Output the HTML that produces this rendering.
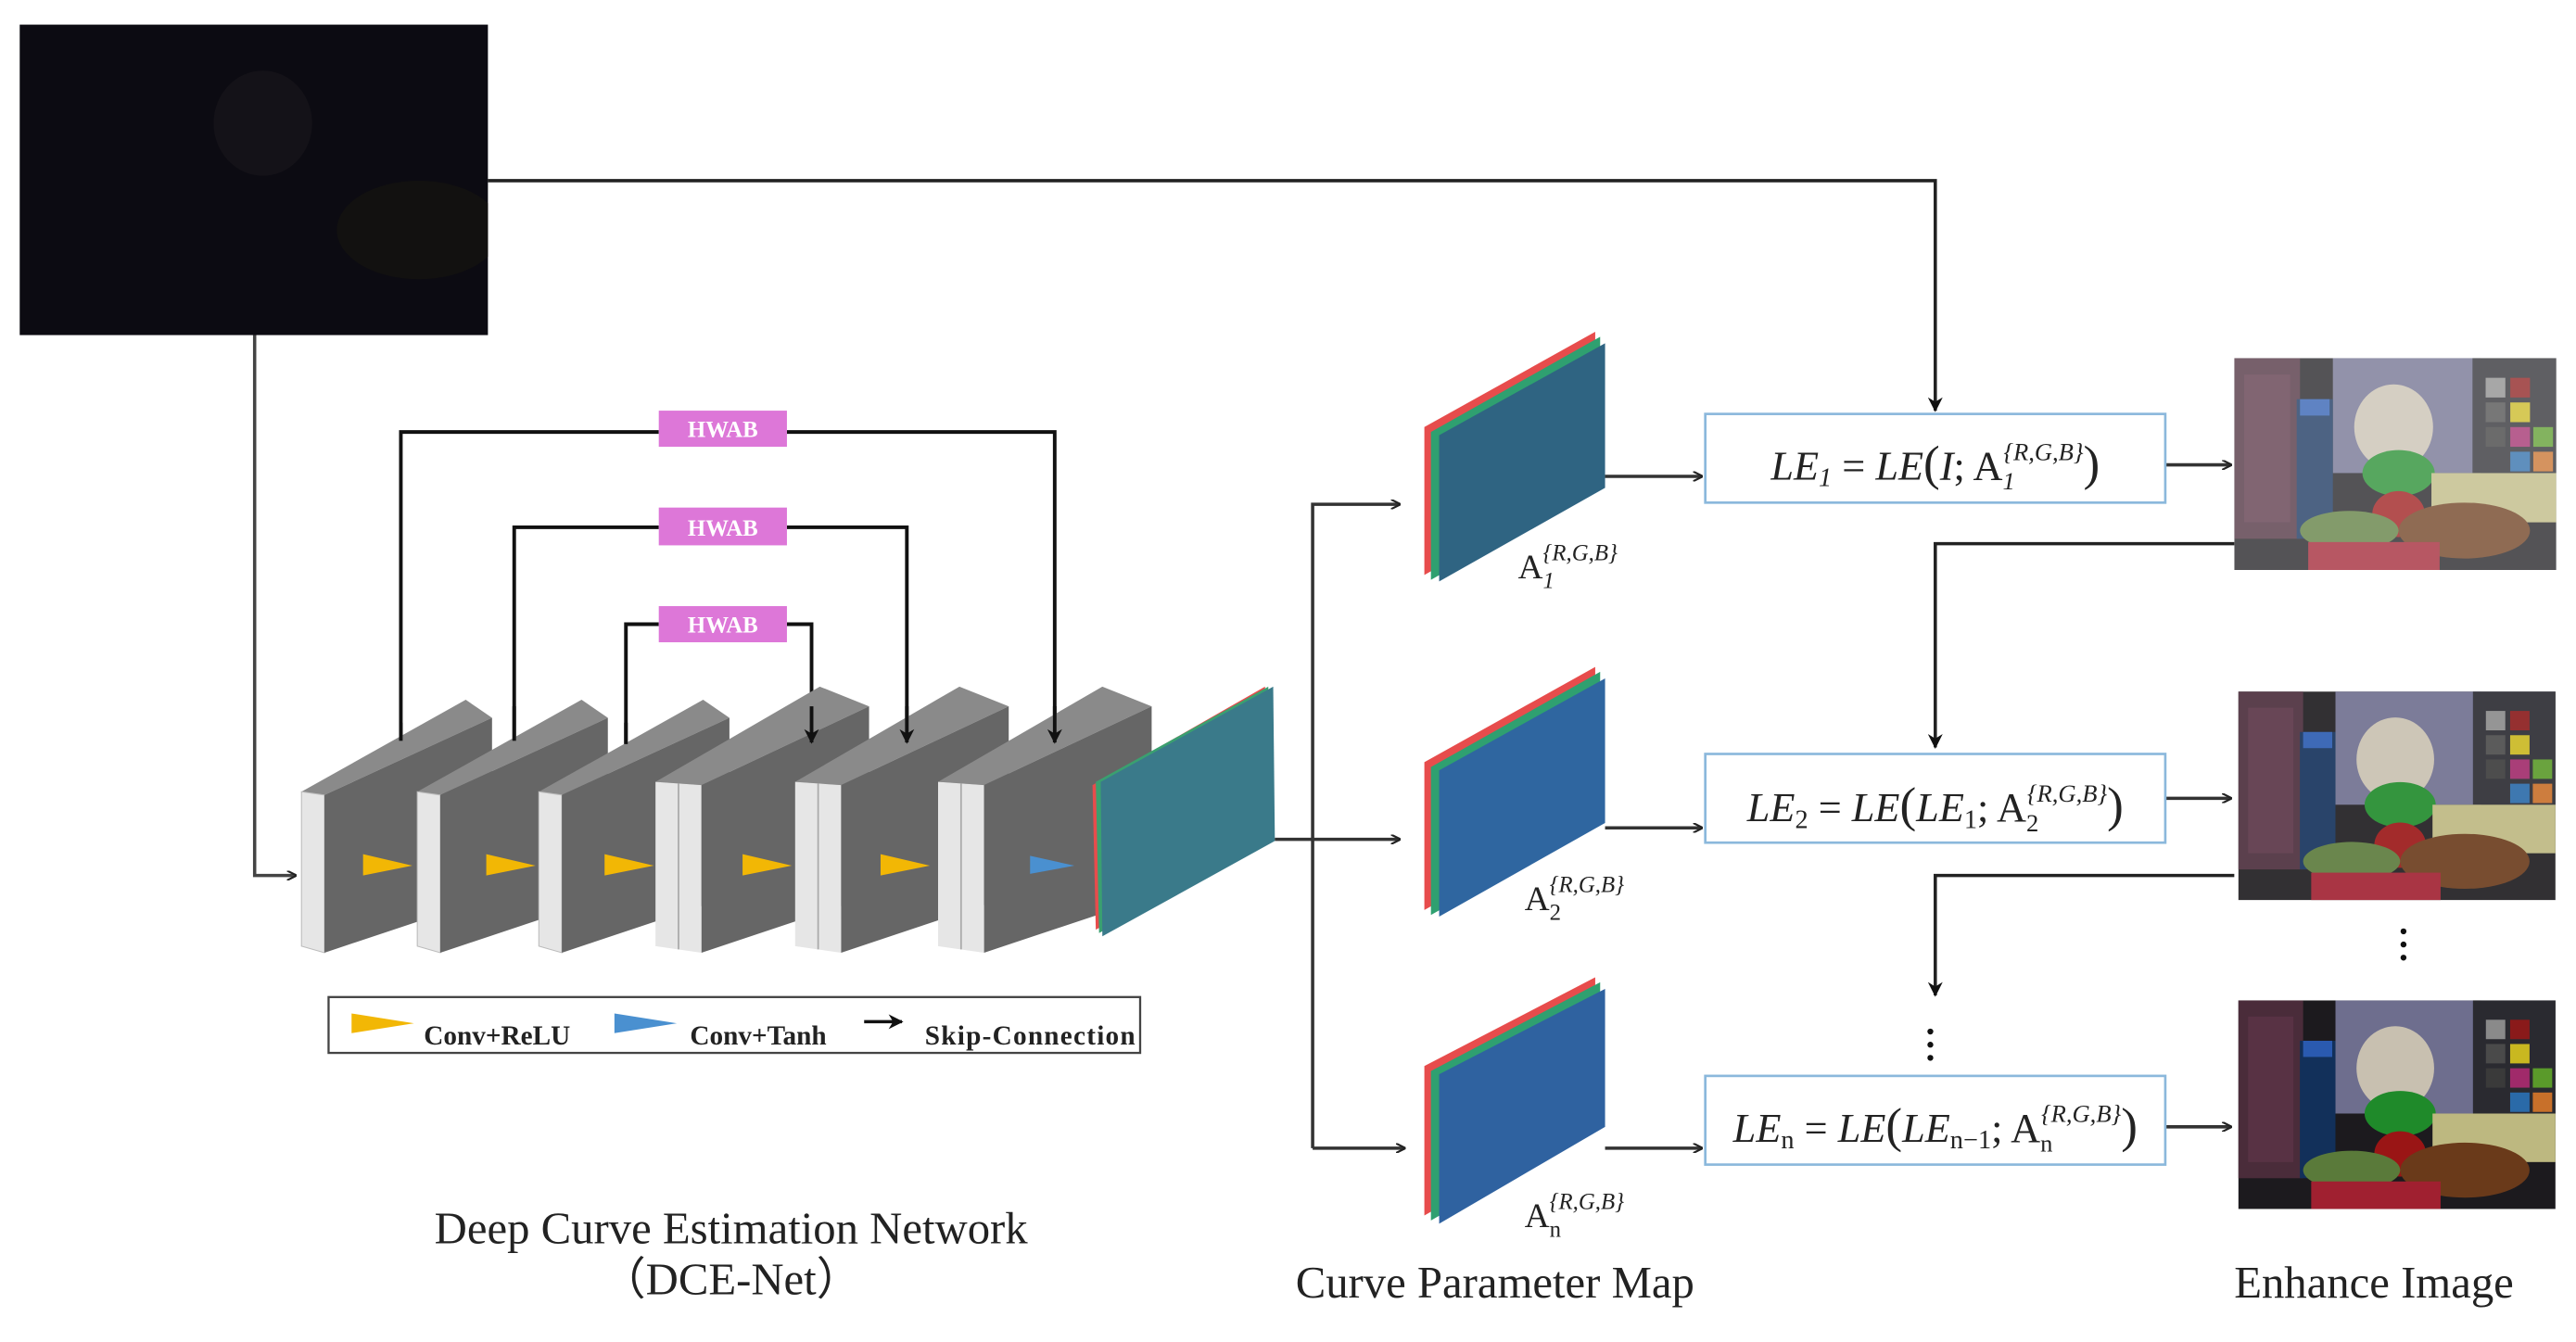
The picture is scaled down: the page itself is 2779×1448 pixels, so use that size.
<!DOCTYPE html>
<html><head><meta charset="utf-8"><style>
html,body{margin:0;padding:0;background:#fff;}
svg{display:block;}
</style></head><body>
<svg width="2779" height="1448" viewBox="0 0 1568 817" preserveAspectRatio="none" xmlns="http://www.w3.org/2000/svg">
<defs>
<marker id="ah" viewBox="0 0 10 10" refX="9" refY="5" markerWidth="6" markerHeight="6" orient="auto" markerUnits="userSpaceOnUse">
<path d="M0,0 L10,5 L0,10" fill="none" stroke="#222" stroke-width="2"/>
</marker>
<marker id="ahf" viewBox="0 0 10 10" refX="9" refY="5" markerWidth="9" markerHeight="9" orient="auto" markerUnits="userSpaceOnUse">
<path d="M0,0 L10,5 L0,10 L3,5 Z" fill="#111"/>
</marker>
<clipPath id="dk"><rect x="12" y="15" width="285" height="189"/></clipPath>
<symbol id="photo" viewBox="0 0 196 129">
<rect width="196" height="129" fill="#1c1a1e"/>
<rect x="0" y="0" width="40" height="110" fill="#4a2c3a"/>
<rect x="6" y="10" width="28" height="90" fill="#5e3548" opacity="0.7"/>
<rect x="60" y="0" width="90" height="70" fill="#6e6e8e"/>
<rect x="145" y="0" width="51" height="70" fill="#2a2a30"/>
<rect x="153" y="12" width="12" height="12" fill="#8a8a8a"/><rect x="168" y="12" width="12" height="12" fill="#8a1a1a"/>
<rect x="153" y="27" width="12" height="12" fill="#4a4a4a"/><rect x="168" y="27" width="12" height="12" fill="#c9b820"/>
<rect x="153" y="42" width="12" height="12" fill="#3a3a3a"/><rect x="168" y="42" width="12" height="12" fill="#a02a6a"/><rect x="182" y="42" width="12" height="12" fill="#5a9a2a"/>
<rect x="168" y="57" width="12" height="12" fill="#2a6aa8"/><rect x="182" y="57" width="12" height="12" fill="#c8702a"/>
<rect x="38" y="25" width="22" height="85" fill="#12305a"/>
<rect x="40" y="25" width="18" height="10" fill="#2a5ab0"/>
<ellipse cx="97" cy="42" rx="24" ry="26" fill="#c8c0b0"/>
<ellipse cx="100" cy="70" rx="22" ry="14" fill="#1f8a2a"/>
<rect x="120" y="70" width="76" height="30" fill="#bdb880"/>
<ellipse cx="100" cy="95" rx="16" ry="14" fill="#9a1515"/>
<ellipse cx="140" cy="105" rx="40" ry="17" fill="#6a3a1a"/>
<ellipse cx="70" cy="105" rx="30" ry="12" fill="#5a7a3a"/>
<rect x="45" y="112" width="80" height="17" fill="#a02030"/>
</symbol>
</defs>

<!-- dark input image -->
<rect x="12" y="15" width="285" height="189" fill="#0c0b12"/>
<g clip-path="url(#dk)">
<ellipse cx="160" cy="75" rx="30" ry="32" fill="#141218"/>
<ellipse cx="255" cy="140" rx="50" ry="30" fill="#121110"/>
</g>

<path d="M297,110 H1178 V250" fill="none" stroke="#222" stroke-width="2" marker-end="url(#ahf)"/>
<path d="M155,204 V533 H180" fill="none" stroke="#444" stroke-width="2" marker-end="url(#ah)"/>

<g fill="none" stroke="#111" stroke-width="2.2">
<path d="M244,451 V263 H401"/>
<path d="M479,263 H642 V452" marker-end="url(#ahf)"/>
<path d="M313,451 V321 H401"/>
<path d="M479,321 H552 V452" marker-end="url(#ahf)"/>
<path d="M381,453 V380 H401"/>
<path d="M479,380 H494 V452" marker-end="url(#ahf)"/>
</g>

<g>
<polygon points="183.5,482 283.5,426 299.5,437 197.5,484" fill="#8a8a8a"/>
<polygon points="183.5,482 197.5,484 197.5,580 183.5,576" fill="#e6e6e6" stroke="#bbb" stroke-width="0.6"/>
<polygon points="197.5,484 299.5,437 299.5,546 197.5,580" fill="#666"/>
<polygon points="221,520 251,527 221,533" fill="#f2b705"/>
<polygon points="254,482 354,426 370,437 268,484" fill="#8a8a8a"/>
<polygon points="254,482 268,484 268,580 254,576" fill="#e6e6e6" stroke="#bbb" stroke-width="0.6"/>
<polygon points="268,484 370,437 370,546 268,580" fill="#666"/>
<polygon points="296,520 326,527 296,533" fill="#f2b705"/>
<polygon points="328,482 428,426 444,437 342,484" fill="#8a8a8a"/>
<polygon points="328,482 342,484 342,580 328,576" fill="#e6e6e6" stroke="#bbb" stroke-width="0.6"/>
<polygon points="342,484 444,437 444,546 342,580" fill="#666"/>
<polygon points="368,520 398,527 368,533" fill="#f2b705"/>
<polygon points="399,476 499,418 529,430 427,478" fill="#8a8a8a"/>
<polygon points="399,476 427,478 427,580 399,576" fill="#e6e6e6"/>
<line x1="413" y1="477" x2="413" y2="578" stroke="#aaa" stroke-width="1"/>
<polygon points="427,478 529,430 529,546 427,580" fill="#666"/>
<polygon points="452,520 482,527 452,533" fill="#f2b705"/>
<polygon points="484,476 584,418 614,430 512,478" fill="#8a8a8a"/>
<polygon points="484,476 512,478 512,580 484,576" fill="#e6e6e6"/>
<line x1="498" y1="477" x2="498" y2="578" stroke="#aaa" stroke-width="1"/>
<polygon points="512,478 614,430 614,546 512,580" fill="#666"/>
<polygon points="536,520 566,527 536,533" fill="#f2b705"/>
<polygon points="571,476 671,418 701,430 599,478" fill="#8a8a8a"/>
<polygon points="571,476 599,478 599,580 571,576" fill="#e6e6e6"/>
<line x1="585" y1="477" x2="585" y2="578" stroke="#aaa" stroke-width="1"/>
<polygon points="599,478 701,430 701,546 599,580" fill="#666"/>
<polygon points="627,521 654,527 627,532" fill="#4a90d0"/>
</g>
<g fill="none" stroke="#111" stroke-width="2.2">
<path d="M494,430 V452" marker-end="url(#ahf)"/>
<path d="M552,430 V452" marker-end="url(#ahf)"/>
<path d="M642,430 V452" marker-end="url(#ahf)"/>
<path d="M244,451 V440"/><path d="M313,451 V430"/><path d="M381,453 V440"/>
</g>

<polygon points="665,478 770,418 772,508 667,566" fill="#e74c4c"/>
<polygon points="667,476 772,418 774,510 669,568" fill="#3aa070"/>
<polygon points="670,476 775,418 776,512 671,570" fill="#3a7a8a"/>

<g font-family="Liberation Serif, serif" font-weight="bold" font-size="14" fill="#fff" text-anchor="middle">
<rect x="401" y="250" width="78" height="22" fill="#dd77d8"/><text x="440" y="266">HWAB</text>
<rect x="401" y="309" width="78" height="23" fill="#dd77d8"/><text x="440" y="326">HWAB</text>
<rect x="401" y="369" width="78" height="22" fill="#dd77d8"/><text x="440" y="385">HWAB</text>
</g>

<rect x="200" y="607" width="494" height="34" fill="#fff" stroke="#444" stroke-width="1.3"/>
<polygon points="214,617 252,623 214,629" fill="#f2b705"/>
<polygon points="374,617 412,623 374,629" fill="#4a90d0"/>
<path d="M526,622 H549" stroke="#111" stroke-width="2" marker-end="url(#ahf)"/>
<g font-family="Liberation Serif, serif" font-weight="bold" font-size="16.5" fill="#222">
<text x="258" y="636">Conv+ReLU</text>
<text x="420" y="636">Conv+Tanh</text>
<text x="563" y="636" textLength="128">Skip-Connection</text>
</g>

<g fill="none" stroke="#333" stroke-width="2">
<path d="M776,511 H852" marker-end="url(#ah)"/>
<path d="M799,699 V307 H852" marker-end="url(#ah)"/>
<path d="M799,699 H855" marker-end="url(#ah)"/>
</g>

<g>
<polygon points="867,260 971,202 971,292 867,350" fill="#e74c4c"/>
<polygon points="871,263 974,205 974,295 871,353" fill="#2fa070"/>
<polygon points="876,265 977,209 977,297 876,354" fill="#2f6482"/>
<polygon points="867,464 971,406 971,496 867,554" fill="#e74c4c"/>
<polygon points="871,467 974,409 974,499 871,557" fill="#2fa070"/>
<polygon points="876,469 977,413 977,501 876,558" fill="#2f66a0"/>
<polygon points="867,649 971,595 971,681 867,740" fill="#e74c4c"/>
<polygon points="871,652 974,598 974,684 871,743" fill="#2fa070"/>
<polygon points="876,654 977,602 977,686 876,745" fill="#2f62a0"/>
</g>
<g font-family="Liberation Serif, serif" fill="#222">
<text x="924" y="352" font-size="21">A<tspan font-size="14" dy="6" font-style="italic">1</tspan><tspan font-size="14" dx="-7" dy="-17" font-style="italic">{R,G,B}</tspan></text>
<text x="928" y="554" font-size="21">A<tspan font-size="14" dy="6">2</tspan><tspan font-size="14" dx="-7" dy="-17" font-style="italic">{R,G,B}</tspan></text>
<text x="928" y="747" font-size="21">A<tspan font-size="14" dy="6">n</tspan><tspan font-size="14" dx="-7" dy="-17" font-style="italic">{R,G,B}</tspan></text>
</g>

<g fill="none" stroke="#333" stroke-width="2">
<path d="M977,290 H1036" marker-end="url(#ah)"/>
<path d="M977,504 H1036" marker-end="url(#ah)"/>
<path d="M977,699 H1036" marker-end="url(#ah)"/>
<path d="M1318,283 H1358" marker-end="url(#ah)"/>
<path d="M1318,486 H1358" marker-end="url(#ah)"/>
<path d="M1318,686 H1358" marker-end="url(#ah)"/>
</g>
<g fill="none" stroke="#222" stroke-width="2">
<path d="M1360,331 H1178 V455" marker-end="url(#ahf)"/>
<path d="M1360,533 H1178 V606" marker-end="url(#ahf)"/>
</g>

<g fill="#fff" stroke="#8bb8dc" stroke-width="1.5">
<rect x="1038" y="252" width="280" height="54"/>
<rect x="1038" y="459" width="280" height="54"/>
<rect x="1038" y="655" width="280" height="54"/>
</g>
<g font-family="Liberation Serif, serif" font-size="25" fill="#222" text-anchor="middle">
<text x="1178" y="292"><tspan font-style="italic">LE</tspan><tspan font-size="16" dy="4" font-style="italic">1</tspan><tspan dy="-4"> = </tspan><tspan font-style="italic">LE</tspan><tspan font-size="30">(</tspan><tspan font-style="italic">I</tspan>; A<tspan font-size="15" dy="6" font-style="italic">1</tspan><tspan font-size="15" dx="-7" dy="-18" font-style="italic">{R,G,B}</tspan><tspan font-size="30" dy="12">)</tspan></text>
<text x="1178" y="500"><tspan font-style="italic">LE</tspan><tspan font-size="16" dy="4">2</tspan><tspan dy="-4"> = </tspan><tspan font-style="italic">LE</tspan><tspan font-size="30">(</tspan><tspan font-style="italic">LE</tspan><tspan font-size="16" dy="4">1</tspan><tspan dy="-4">; A</tspan><tspan font-size="15" dy="6">2</tspan><tspan font-size="15" dx="-7" dy="-18" font-style="italic">{R,G,B}</tspan><tspan font-size="30" dy="12">)</tspan></text>
<text x="1178" y="695"><tspan font-style="italic">LE</tspan><tspan font-size="16" dy="4">n</tspan><tspan dy="-4"> = </tspan><tspan font-style="italic">LE</tspan><tspan font-size="30">(</tspan><tspan font-style="italic">LE</tspan><tspan font-size="16" dy="4">n−1</tspan><tspan dy="-4">; A</tspan><tspan font-size="15" dy="6">n</tspan><tspan font-size="15" dx="-7" dy="-18" font-style="italic">{R,G,B}</tspan><tspan font-size="30" dy="12">)</tspan></text>
</g>

<g fill="#111">
<circle cx="1175" cy="628" r="1.8"/><circle cx="1175" cy="636" r="1.8"/><circle cx="1175" cy="644" r="1.8"/>
<circle cx="1463" cy="567" r="1.8"/><circle cx="1463" cy="575" r="1.8"/><circle cx="1463" cy="583" r="1.8"/>
</g>

<use href="#photo" x="1360" y="218" width="196" height="129" opacity="0.75"/>
<use href="#photo" x="1362" y="421" width="194" height="127" opacity="0.9"/>
<use href="#photo" x="1362" y="609" width="194" height="127"/>

<g font-family="Liberation Serif, serif" font-size="27.5" fill="#222" text-anchor="middle">
<text x="445" y="757">Deep Curve Estimation Network</text>
<text x="445" y="788">（DCE-Net）</text>
<text x="910" y="790">Curve Parameter Map</text>
<text x="1445" y="790">Enhance Image</text>
</g>
</svg>
</body></html>
